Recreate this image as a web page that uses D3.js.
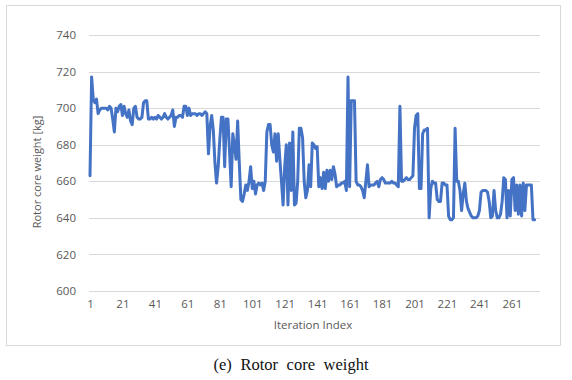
<!DOCTYPE html>
<html>
<head>
<meta charset="utf-8">
<script src="https://cdn.jsdelivr.net/npm/d3@7"></script>
<style>
  body { margin: 0; background: #fff; }
  svg { display: block; }
</style>
</head>
<body>
<div id="chart"></div>
<script>
// rotor core weight per iteration [kg]
let weights = [
    663, 717, 705, 703, 705, 697, 699, 700, 700, 700,
    700, 699, 701, 700, 694, 687, 700, 698, 701, 702,
    696, 701, 697, 695, 699, 693, 691, 700, 701, 695,
    694, 694, 695, 703, 704, 704, 694, 694, 695, 694,
    695, 694, 696, 695, 694, 695, 697, 695, 694, 695,
    696, 699, 690, 695, 695, 696, 696, 695, 701, 701,
    696, 700, 696, 697, 697, 697, 696, 697, 697, 696,
    697, 698, 697, 675, 690, 696, 688, 670, 659, 668,
    683, 695, 695, 668, 694, 694, 676, 657, 686, 680,
    672, 693, 670, 650, 649, 653, 658, 655, 660, 668,
    656, 660, 653, 658, 659, 658, 659, 655, 660, 687,
    691, 691, 680, 676, 686, 671, 686, 672, 660, 647,
    668, 680, 647, 681, 655, 687, 647, 648, 660, 689,
    689, 684, 660, 651, 655, 669, 657, 681, 680, 678,
    679, 657, 662, 656, 665, 656, 666, 660, 666, 661,
    668, 664, 657, 658, 658, 659, 659, 660, 655, 717,
    657, 704, 704, 704, 660, 658, 658, 657, 655, 651,
    660, 669, 657, 658, 658, 658, 659, 660, 657, 661,
    662, 661, 659, 659, 659, 659, 660, 659, 659, 658,
    657, 701, 660, 660, 661, 662, 661, 661, 662, 663,
    689, 696, 697, 656, 656, 686, 688, 688, 689, 640,
    656, 660, 659, 659, 650, 649, 649, 659, 659, 658,
    658, 641, 639, 639, 640, 689, 660, 660, 655, 644,
    653, 659, 649, 645, 643, 641, 640, 640, 640, 641,
    644, 654, 655, 655, 655, 654, 649, 640, 641, 655,
    644, 640, 640, 642, 649, 662, 661, 640, 655, 641,
    661, 662, 644, 658, 642, 658, 641, 659, 644, 658,
    658, 658, 658, 639, 639
];
let yTicks = [600, 620, 640, 660, 680, 700, 720, 740];
let xTicks = [1, 21, 41, 61, 81, 101, 121, 141, 161, 181, 201, 221, 241, 261];

let width = 572;
let height = 380;
let plotLeft = 89, plotRight = 540;

let svg = d3.select("#chart")
    .append("svg")
    .attr("width", width)
    .attr("height", height);

// chart frame
svg.append("rect")
    .attr("x", 6.5)
    .attr("y", 5.5)
    .attr("width", 554)
    .attr("height", 340)
    .attr("fill", "white")
    .attr("stroke", "#d9d9d9")
    .attr("stroke-width", 1);

let x = d3.scaleLinear()
    .domain([1, weights.length])
    .range([90, 534.6]);

let y = d3.scaleLinear()
    .domain([600, 740])
    .range([291, 35]);

// horizontal gridlines
svg.append("g")
    .selectAll("line")
    .data(yTicks)
    .enter()
    .append("line")
    .attr("x1", plotLeft)
    .attr("x2", plotRight)
    .attr("y1", (d) => Math.round(y(d)) + 0.5)
    .attr("y2", (d) => Math.round(y(d)) + 0.5)
    .attr("stroke", "#d9d9d9")
    .attr("stroke-width", 1);

let yAxis = svg.append("g")
    .attr("transform", "translate(" + (plotLeft - 13) + ",0)")
    .call(d3.axisLeft(y).tickValues(yTicks).tickSize(0).tickPadding(0));

let xAxis = svg.append("g")
    .attr("transform", "translate(0," + 300 + ")")
    .call(d3.axisBottom(x).tickValues(xTicks).tickFormat(d3.format("d")).tickSize(0).tickPadding(0));

[yAxis, xAxis].forEach(function (ax) {
    ax.select(".domain").remove();
    ax.selectAll("text")
        .attr("fill", "#595959")
        .style("font-family", "'Open Sans', sans-serif")
        .style("font-size", "11.5px");
});

let line = d3.line()
    .x((d, i) => x(i + 1))
    .y((d) => y(d));

svg.append("path")
    .datum(weights)
    .attr("fill", "none")
    .attr("stroke", "#4472c4")
    .attr("stroke-width", 3)
    .attr("stroke-linejoin", "round")
    .attr("stroke-linecap", "round")
    .attr("d", line);

// axis titles
svg.append("text")
    .text("Rotor core weight [kg]")
    .attr("transform", "translate(41,172) rotate(-90)")
    .attr("text-anchor", "middle")
    .attr("fill", "#595959")
    .style("font-family", "'Open Sans', sans-serif")
    .style("font-size", "11px");

svg.append("text")
    .text("Iteration Index")
    .attr("x", 313)
    .attr("y", 329)
    .attr("text-anchor", "middle")
    .attr("fill", "#595959")
    .style("font-family", "'Open Sans', sans-serif")
    .style("font-size", "11.5px");

// caption under the chart
svg.append("text")
    .text("(e) Rotor core weight")
    .attr("x", 291)
    .attr("y", 370)
    .attr("text-anchor", "middle")
    .attr("fill", "#111")
    .style("font-family", "'Liberation Serif', serif")
    .style("font-size", "16.5px")
    .style("word-spacing", "4.5px");
</script>
</body>
</html>
